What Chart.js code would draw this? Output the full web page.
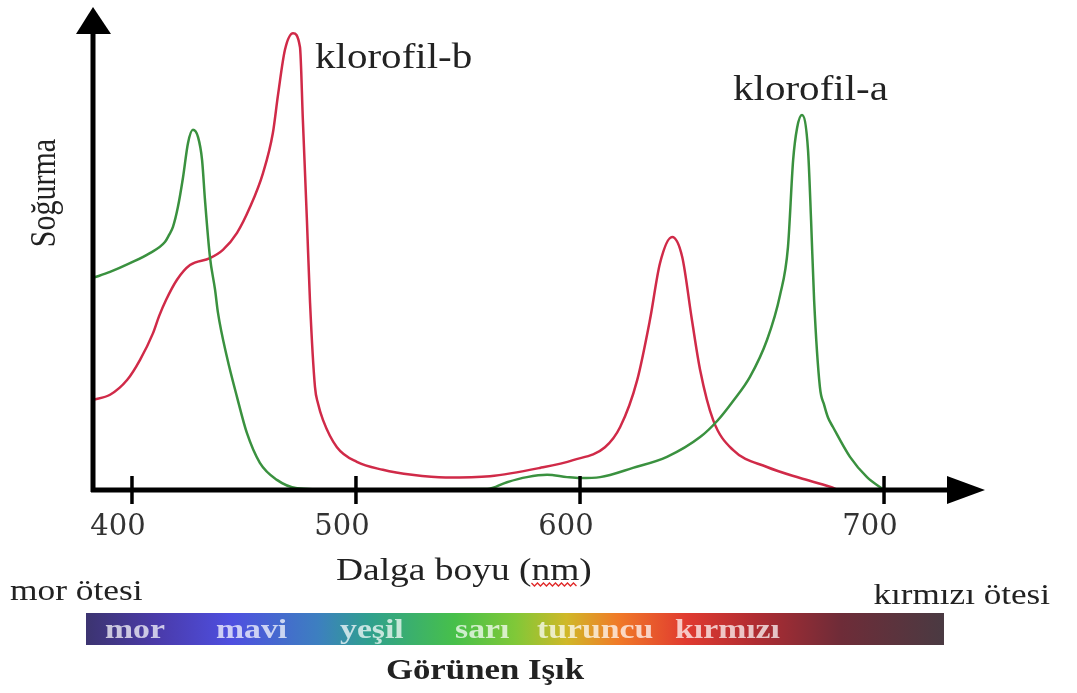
<!DOCTYPE html>
<html>
<head>
<meta charset="utf-8">
<script src="https://cdn.jsdelivr.net/npm/chart.js@4.4.1/dist/chart.umd.min.js"></script>
<style>
  html, body { margin: 0; padding: 0; background: #fff; }
  canvas { display: block; }
</style>
</head>
<body>
<canvas id="spectrum" width="1077" height="693"></canvas>
<script>
// absorption spectra, wavelength in nm / relative absorbance (0-100)
var chlAWavelength = [382.6, 390.2, 399.1, 408.0, 414.7, 416.5, 418.3, 420.5, 422.8, 425.0, 427.2, 429.5,
  431.3, 432.6, 434.8, 437.1, 438.4, 442.4, 446.9, 451.3, 457.1, 464.7, 473.7, 490.0, 558.5, 567.4,
  576.3, 585.3, 594.2, 600.0, 606.6, 617.4, 628.6, 639.5, 645.1, 650.3, 655.9, 661.5, 665.8, 668.4,
  670.1, 671.4, 673.0, 675.0, 676.0, 677.0, 678.9, 680.3, 681.6, 683.2, 688.8, 694.4, 700.0];
var chlAAbsorb = [46.1, 47.4, 49.3, 51.5, 53.9, 55.4, 57.2, 61.5, 68.0, 75.4, 78.3, 76.7,
  71.7, 63.0, 50.7, 43.5, 38.5, 28.9, 20.2, 12.4, 5.9, 2.2, 0.4, 0.1, 0.2, 1.7,
  2.8, 3.3, 2.8, 2.6, 2.8, 4.8, 7.2, 11.5, 15.0, 19.3, 24.6, 32.6, 42.4, 52.8,
  71.7, 78.7, 81.5, 73.9, 58.7, 41.3, 22.4, 18.5, 15.7, 13.7, 7.2, 2.8, 0];

var chlBWavelength = [382.6, 390.2, 397.8, 403.6, 409.4, 412.1, 415.2, 420.1, 425.9, 434.8, 440.6, 446.9,
  452.7, 458.5, 462.9, 465.2, 468.3, 471.9, 475.0, 476.3, 478.1, 479.5, 481.7, 483.0, 485.3, 491.5,
  500.4, 512.0, 525.0, 540.0, 559.8, 582.1, 596.9, 608.2, 613.2, 618.8, 623.0, 626.3, 630.3, 633.6,
  636.8, 639.5, 643.8, 650.3, 661.5, 672.4, 682.2, 684.9];
var chlBAbsorb = [19.6, 20.7, 23.9, 28.3, 34.1, 37.8, 41.3, 45.7, 48.9, 50.4, 52.2, 55.9,
  61.5, 68.9, 77.6, 85.9, 95.7, 99.3, 96.3, 80.4, 58.7, 40.7, 22.4, 18.9, 15.2, 9.3,
  6.1, 4.4, 3.3, 2.7, 3.0, 4.8, 6.5, 9.3, 13.7, 23.9, 37.0, 49.3, 55.0, 50.7,
  37.0, 26.1, 15.2, 8.7, 5.0, 2.6, 0.7, 0];

var xTicks = [400, 500, 600, 700];
var seriesNames = ['klorofil-a', 'klorofil-b'];
var bandNames = ['mor', 'mavi', 'yeşil', 'sarı', 'turuncu', 'kırmızı'];

// the printed axis is not evenly spaced: the 600-700 stretch is wider
var knotValues = [382.6, 400, 500, 600, 700, 733.2];
var knotPos = [0, 0.0437, 0.2948, 0.546, 0.8868, 1];

class PiecewiseScale extends Chart.LinearScale {
  getPixelForValue(value) {
    var i = 1;
    while (i < knotValues.length - 1 && value > knotValues[i]) i++;
    var t = (value - knotValues[i - 1]) / (knotValues[i] - knotValues[i - 1]);
    return this.getPixelForDecimal(knotPos[i - 1] + t * (knotPos[i] - knotPos[i - 1]));
  }
  getValueForPixel(pixel) {
    var d = this.getDecimalForPixel(pixel);
    var i = 1;
    while (i < knotPos.length - 1 && d > knotPos[i]) i++;
    var t = (d - knotPos[i - 1]) / (knotPos[i] - knotPos[i - 1]);
    return knotValues[i - 1] + t * (knotValues[i] - knotValues[i - 1]);
  }
}
PiecewiseScale.id = 'piecewise';
PiecewiseScale.defaults = Chart.LinearScale.defaults;
Chart.register(PiecewiseScale);

function toPoints(xs, ys) {
  return xs.map(function (x, i) { return { x: x, y: ys[i] }; });
}

function stretchText(ctx, str, x, y, font, color, align, sx) {
  ctx.save();
  ctx.font = font;
  ctx.fillStyle = color;
  ctx.textAlign = align;
  ctx.textBaseline = 'alphabetic';
  ctx.translate(x, y);
  ctx.scale(sx, 1);
  ctx.fillText(str, 0, 0);
  ctx.restore();
}

// axes with arrows, labels and the visible-light strip under the chart
var decorations = {
  id: 'decorations',
  afterDraw: function (chart) {
    var ctx = chart.ctx;
    var area = chart.chartArea;
    var xs = chart.scales.x;
    var yb = chart.scales.y.getPixelForValue(0);
    var serif = '"Liberation Serif", "Times New Roman", serif';

    ctx.save();
    ctx.fillStyle = '#000';
    ctx.strokeStyle = '#000';
    ctx.lineWidth = 5;
    ctx.beginPath();
    ctx.moveTo(area.left, yb + 2);
    ctx.lineTo(area.left, 34);
    ctx.moveTo(area.left - 2, yb);
    ctx.lineTo(area.right - 36, yb);
    ctx.stroke();

    ctx.beginPath();
    ctx.moveTo(area.left - 17, 34);
    ctx.lineTo(area.left + 18, 34);
    ctx.lineTo(area.left, 7);
    ctx.closePath();
    ctx.fill();

    ctx.beginPath();
    ctx.moveTo(area.right - 38, yb - 14);
    ctx.lineTo(area.right - 38, yb + 14);
    ctx.lineTo(area.right, yb);
    ctx.closePath();
    ctx.fill();

    ctx.lineWidth = 3.5;
    xTicks.forEach(function (v) {
      var px = xs.getPixelForValue(v);
      ctx.beginPath();
      ctx.moveTo(px, yb - 14);
      ctx.lineTo(px, yb + 14);
      ctx.stroke();
    });
    ctx.restore();

    // y title
    ctx.save();
    ctx.translate(55, 193);
    ctx.rotate(-Math.PI / 2);
    ctx.scale(1, 1.17);
    ctx.font = '30px ' + serif;
    ctx.fillStyle = '#222';
    ctx.textAlign = 'center';
    ctx.textBaseline = 'alphabetic';
    ctx.fillText('Soğurma', 0, 0);
    ctx.restore();

    // series names next to the peaks
    stretchText(ctx, seriesNames[1], 315, 68, '36px ' + serif, '#222', 'left', 1.14);
    stretchText(ctx, seriesNames[0], 733, 100, '36px ' + serif, '#222', 'left', 1.14);

    // x title with the spell-check squiggle under "nm"
    var titleFont = '32px ' + serif;
    stretchText(ctx, 'Dalga boyu (nm)', 336, 580, titleFont, '#222', 'left', 1.17);
    ctx.save();
    ctx.font = titleFont;
    var sx0 = 336 + ctx.measureText('Dalga boyu (').width * 1.17;
    var sx1 = 336 + ctx.measureText('Dalga boyu (nm').width * 1.17;
    ctx.strokeStyle = '#e02828';
    ctx.lineWidth = 1.3;
    ctx.beginPath();
    for (var x = sx0, k = 0; x <= sx1; x += 3, k++) {
      var y = 584 + (k % 2 ? 2 : -1);
      if (k === 0) ctx.moveTo(x, y); else ctx.lineTo(x, y);
    }
    ctx.stroke();
    ctx.restore();

    stretchText(ctx, 'mor ötesi', 10, 600, '29px ' + serif, '#222', 'left', 1.22);
    stretchText(ctx, 'kırmızı ötesi', 1050, 604, '30px ' + serif, '#222', 'right', 1.17);

    // visible light strip
    var bx0 = 86, bx1 = 944, by0 = 613, by1 = 645;
    var grad = ctx.createLinearGradient(bx0, 0, bx1, 0);
    grad.addColorStop(0, '#3c3470');
    grad.addColorStop(0.08, '#4a3aa8');
    grad.addColorStop(0.17, '#4e4fe0');
    grad.addColorStop(0.27, '#3d7fc0');
    grad.addColorStop(0.33, '#2fa08e');
    grad.addColorStop(0.43, '#47c04a');
    grad.addColorStop(0.5, '#80c838');
    grad.addColorStop(0.56, '#d0b828');
    grad.addColorStop(0.62, '#f07a28');
    grad.addColorStop(0.7, '#e03a30');
    grad.addColorStop(0.78, '#b02c32');
    grad.addColorStop(0.88, '#6e2c38');
    grad.addColorStop(1, '#4a3a42');
    ctx.fillStyle = grad;
    ctx.fillRect(bx0, by0, bx1 - bx0, by1 - by0);

    var bandLeft = [105, 216, 340, 455, 537, 675];
    bandNames.forEach(function (name, i) {
      stretchText(ctx, name, bandLeft[i], 638, 'bold 27px ' + serif, 'rgba(255,255,255,0.72)', 'left', 1.25);
    });

    stretchText(ctx, 'Görünen Işık', 485, 679, 'bold 29px ' + serif, '#222', 'center', 1.2);
  }
};

new Chart(document.getElementById('spectrum'), {
  type: 'line',
  data: {
    datasets: [{
      label: seriesNames[0],
      data: toPoints(chlAWavelength, chlAAbsorb),
      borderColor: '#3a913f',
      borderWidth: 2.5,
      pointRadius: 0,
      cubicInterpolationMode: 'monotone',
      clip: false
    }, {
      label: seriesNames[1],
      data: toPoints(chlBWavelength, chlBAbsorb),
      borderColor: '#d02a48',
      borderWidth: 2.5,
      pointRadius: 0,
      cubicInterpolationMode: 'monotone',
      clip: false
    }]
  },
  options: {
    responsive: false,
    animation: false,
    devicePixelRatio: 1,
    layout: { padding: { left: 93, right: 92, top: 30, bottom: 93 } },
    plugins: {
      legend: { display: false },
      tooltip: { enabled: false }
    },
    scales: {
      x: {
        type: 'piecewise',
        min: knotValues[0],
        max: knotValues[knotValues.length - 1],
        bounds: 'data',
        grid: { display: false, drawTicks: false },
        border: { display: false },
        afterBuildTicks: function (axis) {
          axis.ticks = xTicks.map(function (v) { return { value: v }; });
        },
        afterFit: function (axis) { axis.height = 110; },
        ticks: {
          autoSkip: false,
          maxRotation: 0,
          padding: 20,
          labelOffset: -14,
          color: '#333',
          font: { family: 'DejaVu Serif', size: 29 },
          callback: function (v) { return String(v); }
        }
      },
      y: {
        display: false,
        min: 0,
        max: 100
      }
    }
  },
  plugins: [decorations]
});
</script>
</body>
</html>
